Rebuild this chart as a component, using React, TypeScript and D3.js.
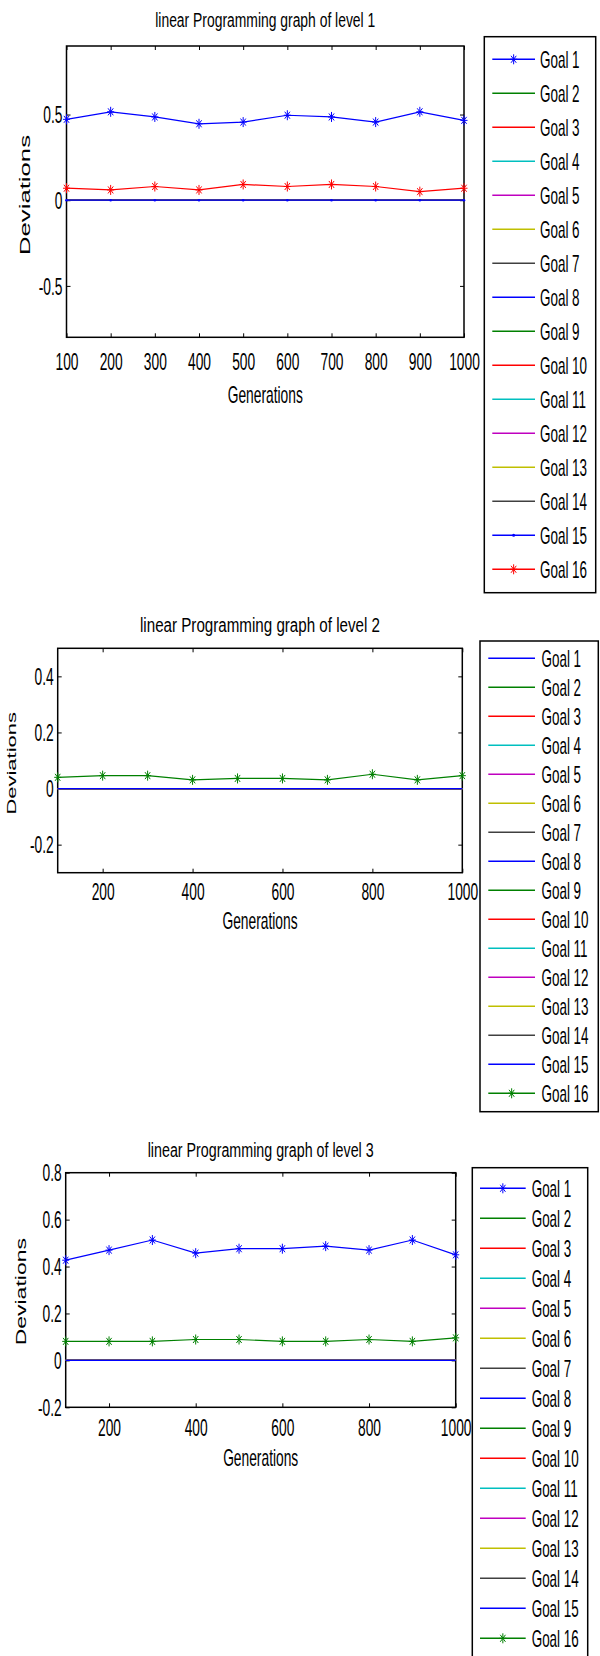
import { useEffect, useRef } from 'react'
import * as d3 from 'd3'

const generations = [100, 200, 300, 400, 500, 600, 700, 800, 900, 1000]
const goalNames = [
  'Goal 1', 'Goal 2', 'Goal 3', 'Goal 4', 'Goal 5', 'Goal 6', 'Goal 7', 'Goal 8',
  'Goal 9', 'Goal 10', 'Goal 11', 'Goal 12', 'Goal 13', 'Goal 14', 'Goal 15', 'Goal 16',
]
const zeroDeviations = [0, 0, 0, 0, 0, 0, 0, 0, 0, 0]

// level 1: goal 1 (blue *) and goal 16 (red *)
const level1Goal1 = [0.472, 0.516, 0.486, 0.446, 0.456, 0.496, 0.486, 0.456, 0.516, 0.466]
const level1Goal16 = [0.07, 0.06, 0.08, 0.06, 0.092, 0.08, 0.092, 0.08, 0.05, 0.07]
// level 2: only goal 16 (green *)
const level2Goal16 = [0.04, 0.046, 0.046, 0.031, 0.036, 0.036, 0.031, 0.051, 0.031, 0.046]
// level 3: goal 1 (blue *) and goal 16 (green *)
const level3Goal1 = [0.427, 0.47, 0.513, 0.457, 0.476, 0.476, 0.487, 0.47, 0.513, 0.45]
const level3Goal16 = [0.081, 0.081, 0.081, 0.089, 0.089, 0.081, 0.081, 0.089, 0.081, 0.096]

const xTicksLevel1 = [100, 200, 300, 400, 500, 600, 700, 800, 900, 1000]
const xTicksLevel23 = [200, 400, 600, 800, 1000]
const yTicksLevel1 = [-0.5, 0, 0.5]
const yTicksLevel2 = [-0.2, 0, 0.2, 0.4]
const yTicksLevel3 = [-0.2, 0, 0.2, 0.4, 0.6, 0.8]

// matlab default color order
const B = '#0000ff', G = '#008000', R = '#ff0000', C = '#00bfbf', M = '#bf00bf', Y = '#bfbf00', K = '#404040'
const cycleColors = [B, G, R, C, M, Y, K, B, G, R, C, M, Y, K, B, G]
const level1Colors = [B, G, R, C, M, Y, K, B, G, R, C, M, Y, K, B, R]

const FONT = '"Liberation Sans", Arial, sans-serif'
const SX = 0.6 // the picture is squeezed sideways

const buildSeries = (first: number[], last: number[]) => {
  const out: number[][] = [first]
  for (let i = 1; i < 15; i++) out.push(zeroDeviations)
  out.push(last)
  return out
}

const charts = [
  {
    title: 'linear Programming graph of level 1',
    series: buildSeries(level1Goal1, level1Goal16),
    colors: level1Colors,
    markers: { 0: 'star', 14: 'dot', 15: 'star' } as Record<number, string>,
    left: 66.5, right: 464, top: 46, bottom: 337.3,
    yDomain: [-0.8, 0.9], xTicks: xTicksLevel1, yTicks: yTicksLevel1,
    titleY: 27, titleW: 220, tickLabelY: 32.5, xLabelY: 403,
    yLabel: { x: 24, y: 195, size: 25.7 },
    legend: { x0: 484.3, x1: 595.7, y0: 36.7, y1: 592.7, row0: 59.3, step: 34, l0: 492.3, l1: 535, tx: 540 },
  },
  {
    title: 'linear Programming graph of level 2',
    series: buildSeries(zeroDeviations, level2Goal16),
    colors: cycleColors,
    markers: { 15: 'star' } as Record<number, string>,
    left: 57.7, right: 462.3, top: 648.3, bottom: 872.7,
    yDomain: [-0.3, 0.5], xTicks: xTicksLevel23, yTicks: yTicksLevel2,
    titleY: 632, titleW: 240, tickLabelY: 27.5, xLabelY: 929,
    yLabel: { x: 11, y: 763.3, size: 22 },
    legend: { x0: 480, x1: 598.3, y0: 641, y1: 1111.7, row0: 658.3, step: 29, l0: 488.3, l1: 535, tx: 541.5 },
  },
  {
    title: 'linear Programming graph of level 3',
    series: buildSeries(level3Goal1, level3Goal16),
    colors: cycleColors,
    markers: { 0: 'star', 15: 'star' } as Record<number, string>,
    left: 65.7, right: 455.7, top: 1172.7, bottom: 1407.3,
    yDomain: [-0.2, 0.8], xTicks: xTicksLevel23, yTicks: yTicksLevel3,
    titleY: 1157, titleW: 226, tickLabelY: 29, xLabelY: 1465.5,
    yLabel: { x: 20.7, y: 1291.7, size: 23 },
    legend: { x0: 472.3, x1: 587.7, y0: 1167.7, y1: 1680, row0: 1188.3, step: 30, l0: 480, l1: 525.7, tx: 531.7 },
  },
]

// matlab '*' marker, narrowed like the rest of the picture
const starPath = () => {
  const p = d3.path()
  const rx = 3.5, ry = 5
  p.moveTo(0, -ry); p.lineTo(0, ry)
  p.moveTo(-rx, 0); p.lineTo(rx, 0)
  p.moveTo(-rx * 0.75, -ry * 0.7); p.lineTo(rx * 0.75, ry * 0.7)
  p.moveTo(-rx * 0.75, ry * 0.7); p.lineTo(rx * 0.75, -ry * 0.7)
  return p.toString()
}

const drawChart = (g: any, c: any) => {
  const x = d3.scaleLinear().domain([100, 1000]).range([c.left, c.right])
  const y = d3.scaleLinear().domain(c.yDomain).range([c.bottom, c.top])
  const tick = 4

  // title
  g.append('text')
    .attr('x', (c.left + c.right) / 2)
    .attr('y', c.titleY)
    .attr('text-anchor', 'middle')
    .attr('font-size', 20)
    .attr('font-family', FONT)
    .attr('textLength', c.titleW)
    .attr('lengthAdjust', 'spacingAndGlyphs')
    .text(c.title)

  // axes, matlab style ticks pointing in
  const bottomG = g.append('g').attr('transform', `translate(0,${c.bottom})`)
  bottomG.call(d3.axisBottom(x).tickValues(c.xTicks).tickSizeInner(-tick).tickSizeOuter(0).tickFormat((d: any) => String(d)))
  bottomG.select('.domain').remove()
  bottomG.selectAll('text')
    .attr('y', c.tickLabelY).attr('dy', 0)
    .attr('font-size', 23).attr('font-family', FONT)
    .attr('transform', `scale(${SX},1)`)

  const topG = g.append('g').attr('transform', `translate(0,${c.top})`)
  topG.call(d3.axisTop(x).tickValues(c.xTicks).tickSizeInner(-tick).tickSizeOuter(0).tickFormat(() => ''))
  topG.select('.domain').remove()
  topG.selectAll('text').remove()

  const leftG = g.append('g').attr('transform', `translate(${c.left},0)`)
  leftG.call(d3.axisLeft(y).tickValues(c.yTicks).tickSizeInner(-tick).tickSizeOuter(0).tickFormat((d: any) => String(d)))
  leftG.select('.domain').remove()
  leftG.selectAll('text')
    .attr('x', -4 / SX).attr('dy', '0.36em')
    .attr('font-size', 23).attr('font-family', FONT)
    .attr('transform', `scale(${SX},1)`)

  const rightG = g.append('g').attr('transform', `translate(${c.right},0)`)
  rightG.call(d3.axisRight(y).tickValues(c.yTicks).tickSizeInner(-tick).tickSizeOuter(0).tickFormat(() => ''))
  rightG.select('.domain').remove()
  rightG.selectAll('text').remove()

  g.append('rect')
    .attr('x', c.left).attr('y', c.top)
    .attr('width', c.right - c.left).attr('height', c.bottom - c.top)
    .attr('fill', 'none').attr('stroke', '#000').attr('stroke-width', 1.5)

  // axis labels
  g.append('text')
    .attr('transform', `translate(${(c.left + c.right) / 2},${c.xLabelY}) scale(${SX},1)`)
    .attr('text-anchor', 'middle')
    .attr('font-size', 23).attr('font-family', FONT)
    .text('Generations')
  g.append('text')
    .attr('transform', `translate(${c.yLabel.x},${c.yLabel.y}) scale(${SX},1) rotate(-90)`)
    .attr('text-anchor', 'middle').attr('dy', '0.36em')
    .attr('font-size', c.yLabel.size).attr('font-family', FONT)
    .text('Deviations')

  // series
  const line = d3.line<number>().x((d, i) => x(generations[i])).y((d) => y(d))
  c.series.forEach((values: number[], k: number) => {
    const color = c.colors[k]
    g.append('path')
      .attr('d', line(values))
      .attr('fill', 'none').attr('stroke', color).attr('stroke-width', 1.2)
    const marker = c.markers[k]
    if (marker === 'star') {
      g.append('g').selectAll('path').data(values).join('path')
        .attr('d', starPath())
        .attr('transform', (d: number, i: number) => `translate(${x(generations[i])},${y(d)})`)
        .attr('fill', 'none').attr('stroke', color).attr('stroke-width', 1)
    } else if (marker === 'dot') {
      g.append('g').selectAll('circle').data(values).join('circle')
        .attr('cx', (d: number, i: number) => x(generations[i]))
        .attr('cy', (d: number) => y(d))
        .attr('r', 1.3).attr('fill', color)
    }
  })

  // legend
  const L = c.legend
  g.append('rect')
    .attr('x', L.x0).attr('y', L.y0)
    .attr('width', L.x1 - L.x0).attr('height', L.y1 - L.y0)
    .attr('fill', '#fff').attr('stroke', '#000').attr('stroke-width', 1.5)
  goalNames.forEach((name, k) => {
    const ry = L.row0 + k * L.step
    const color = c.colors[k]
    g.append('line')
      .attr('x1', L.l0).attr('x2', L.l1).attr('y1', ry).attr('y2', ry)
      .attr('stroke', color).attr('stroke-width', 1.5)
    const mx = (L.l0 + L.l1) / 2
    if (c.markers[k] === 'star') {
      g.append('path').attr('d', starPath())
        .attr('transform', `translate(${mx},${ry})`)
        .attr('fill', 'none').attr('stroke', color).attr('stroke-width', 1)
    } else if (c.markers[k] === 'dot') {
      g.append('circle').attr('cx', mx).attr('cy', ry).attr('r', 1.5).attr('fill', color)
    }
    g.append('text')
      .attr('transform', `translate(${L.tx},${ry}) scale(0.56,1)`)
      .attr('dy', '0.36em')
      .attr('font-size', 24).attr('font-family', FONT)
      .text(name)
  })
}

const App = () => {
  const svgRef = useRef<SVGSVGElement>(null)

  useEffect(() => {
    document.body.style.margin = '0'
    const svg = d3.select(svgRef.current)
    svg.selectAll('*').remove()
    svg.append('rect').attr('width', 600).attr('height', 1656).attr('fill', '#fff')
    charts.forEach((c) => drawChart(svg.append('g'), c))
  }, [])

  return <svg ref={svgRef} width={600} height={1656} style={{ display: 'block' }}></svg>
}

export default App
